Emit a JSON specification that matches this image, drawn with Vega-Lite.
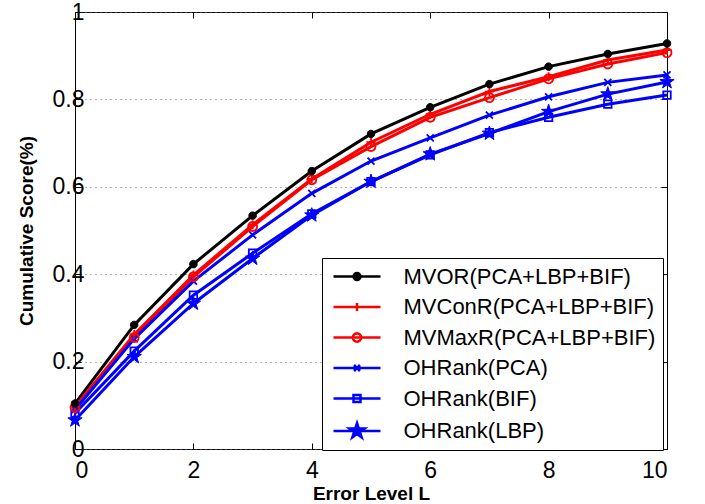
{
  "$schema": "https://vega.github.io/schema/vega-lite/v6.json",
  "width": 592,
  "height": 437,
  "autosize": {"type": "none"},
  "padding": {"left": 75, "top": 12, "right": 38, "bottom": 55},
  "background": "white",
  "config": {
    "view": {"stroke": "black", "strokeWidth": 1},
    "font": "Liberation Sans",
    "axis": {"domain": false, "labelFont": "Liberation Sans", "titleFont": "Liberation Sans", "labelColor": "black", "titleColor": "black", "tickColor": "black", "labelFontSize": 23, "titleFontSize": 19, "titleFontWeight": "bold"},
    "legend": {
      "orient": "none", "legendX": 247, "legendY": 246,
      "strokeColor": "black", "fillColor": "white", "padding": 7,
      "symbolSize": 400, "symbolStrokeWidth": 2.5, "symbolOffset": 16.5, "symbolOpacity": 1,
      "labelFont": "Liberation Sans", "labelFontSize": 22, "labelColor": "black", "labelOffset": 35, "labelLimit": 400,
      "rowPadding": 7.5
    }
  },
  "data": {"values": [
    {"L": 0, "series": "MVOR(PCA+LBP+BIF)", "score": 0.104},
    {"L": 1, "series": "MVOR(PCA+LBP+BIF)", "score": 0.284},
    {"L": 2, "series": "MVOR(PCA+LBP+BIF)", "score": 0.423},
    {"L": 3, "series": "MVOR(PCA+LBP+BIF)", "score": 0.534},
    {"L": 4, "series": "MVOR(PCA+LBP+BIF)", "score": 0.636},
    {"L": 5, "series": "MVOR(PCA+LBP+BIF)", "score": 0.721},
    {"L": 6, "series": "MVOR(PCA+LBP+BIF)", "score": 0.782},
    {"L": 7, "series": "MVOR(PCA+LBP+BIF)", "score": 0.835},
    {"L": 8, "series": "MVOR(PCA+LBP+BIF)", "score": 0.875},
    {"L": 9, "series": "MVOR(PCA+LBP+BIF)", "score": 0.904},
    {"L": 10, "series": "MVOR(PCA+LBP+BIF)", "score": 0.928},
    {"L": 0, "series": "MVConR(PCA+LBP+BIF)", "score": 0.097},
    {"L": 1, "series": "MVConR(PCA+LBP+BIF)", "score": 0.262},
    {"L": 2, "series": "MVConR(PCA+LBP+BIF)", "score": 0.398},
    {"L": 3, "series": "MVConR(PCA+LBP+BIF)", "score": 0.513},
    {"L": 4, "series": "MVConR(PCA+LBP+BIF)", "score": 0.618},
    {"L": 5, "series": "MVConR(PCA+LBP+BIF)", "score": 0.702},
    {"L": 6, "series": "MVConR(PCA+LBP+BIF)", "score": 0.766},
    {"L": 7, "series": "MVConR(PCA+LBP+BIF)", "score": 0.818},
    {"L": 8, "series": "MVConR(PCA+LBP+BIF)", "score": 0.852},
    {"L": 9, "series": "MVConR(PCA+LBP+BIF)", "score": 0.890},
    {"L": 10, "series": "MVConR(PCA+LBP+BIF)", "score": 0.913},
    {"L": 0, "series": "MVMaxR(PCA+LBP+BIF)", "score": 0.095},
    {"L": 1, "series": "MVMaxR(PCA+LBP+BIF)", "score": 0.255},
    {"L": 2, "series": "MVMaxR(PCA+LBP+BIF)", "score": 0.394},
    {"L": 3, "series": "MVMaxR(PCA+LBP+BIF)", "score": 0.509},
    {"L": 4, "series": "MVMaxR(PCA+LBP+BIF)", "score": 0.616},
    {"L": 5, "series": "MVMaxR(PCA+LBP+BIF)", "score": 0.692},
    {"L": 6, "series": "MVMaxR(PCA+LBP+BIF)", "score": 0.759},
    {"L": 7, "series": "MVMaxR(PCA+LBP+BIF)", "score": 0.804},
    {"L": 8, "series": "MVMaxR(PCA+LBP+BIF)", "score": 0.847},
    {"L": 9, "series": "MVMaxR(PCA+LBP+BIF)", "score": 0.881},
    {"L": 10, "series": "MVMaxR(PCA+LBP+BIF)", "score": 0.907},
    {"L": 0, "series": "OHRank(PCA)", "score": 0.090},
    {"L": 1, "series": "OHRank(PCA)", "score": 0.252},
    {"L": 2, "series": "OHRank(PCA)", "score": 0.384},
    {"L": 3, "series": "OHRank(PCA)", "score": 0.490},
    {"L": 4, "series": "OHRank(PCA)", "score": 0.585},
    {"L": 5, "series": "OHRank(PCA)", "score": 0.659},
    {"L": 6, "series": "OHRank(PCA)", "score": 0.712},
    {"L": 7, "series": "OHRank(PCA)", "score": 0.764},
    {"L": 8, "series": "OHRank(PCA)", "score": 0.806},
    {"L": 9, "series": "OHRank(PCA)", "score": 0.839},
    {"L": 10, "series": "OHRank(PCA)", "score": 0.856},
    {"L": 0, "series": "OHRank(BIF)", "score": 0.082},
    {"L": 1, "series": "OHRank(BIF)", "score": 0.224},
    {"L": 2, "series": "OHRank(BIF)", "score": 0.352},
    {"L": 3, "series": "OHRank(BIF)", "score": 0.448},
    {"L": 4, "series": "OHRank(BIF)", "score": 0.538},
    {"L": 5, "series": "OHRank(BIF)", "score": 0.612},
    {"L": 6, "series": "OHRank(BIF)", "score": 0.673},
    {"L": 7, "series": "OHRank(BIF)", "score": 0.724},
    {"L": 8, "series": "OHRank(BIF)", "score": 0.759},
    {"L": 9, "series": "OHRank(BIF)", "score": 0.789},
    {"L": 10, "series": "OHRank(BIF)", "score": 0.810},
    {"L": 0, "series": "OHRank(LBP)", "score": 0.066},
    {"L": 1, "series": "OHRank(LBP)", "score": 0.211},
    {"L": 2, "series": "OHRank(LBP)", "score": 0.333},
    {"L": 3, "series": "OHRank(LBP)", "score": 0.436},
    {"L": 4, "series": "OHRank(LBP)", "score": 0.535},
    {"L": 5, "series": "OHRank(LBP)", "score": 0.612},
    {"L": 6, "series": "OHRank(LBP)", "score": 0.675},
    {"L": 7, "series": "OHRank(LBP)", "score": 0.722},
    {"L": 8, "series": "OHRank(LBP)", "score": 0.772},
    {"L": 9, "series": "OHRank(LBP)", "score": 0.812},
    {"L": 10, "series": "OHRank(LBP)", "score": 0.840}
  ]},
  "resolve": {"axis": {"x": "independent", "y": "independent"}},
  "layer": [
    {
      "mark": {"type": "line", "strokeWidth": 3},
      "encoding": {
        "x": {"field": "L", "type": "quantitative", "scale": {"domain": [0, 10], "nice": false},
              "axis": {"orient": "bottom", "values": [0, 2, 4, 6, 8, 10], "tickSize": -6, "labelPadding": 16, "grid": false, "title": "Error Level L", "titlePadding": 2}},
        "y": {"field": "score", "type": "quantitative", "scale": {"domain": [0, 1], "nice": false},
              "axis": {"orient": "left", "values": [0, 0.2, 0.4, 0.6, 0.8, 1], "format": "~g", "tickSize": -6, "labelPadding": -3, "grid": true, "gridDash": [1, 4], "gridColor": "#666", "gridWidth": 1, "title": "Cumulative Score(%)", "titlePadding": 16}},
        "stroke": {"field": "series", "type": "nominal",
                   "scale": {"domain": ["MVOR(PCA+LBP+BIF)", "MVConR(PCA+LBP+BIF)", "MVMaxR(PCA+LBP+BIF)", "OHRank(PCA)", "OHRank(BIF)", "OHRank(LBP)"], "range": ["#000000", "#ff0000", "#ff0000", "#0000ff", "#0000ff", "#0000ff"]},
                   "legend": {"title": null}}
      }
    },
    {
      "mark": {"type": "point", "size": 100, "strokeWidth": 2.5, "opacity": 0},
      "encoding": {
        "x": {"field": "L", "type": "quantitative", "axis": {"orient": "top", "values": [0, 2, 4, 6, 8, 10], "tickSize": -6, "labels": false, "grid": false, "title": null}},
        "y": {"field": "score", "type": "quantitative", "axis": {"orient": "right", "values": [0, 0.2, 0.4, 0.6, 0.8, 1], "tickSize": -6, "labels": false, "grid": false, "title": null}},
        "stroke": {"field": "series", "type": "nominal", "legend": {"title": null}},
        "fill": {"field": "series", "type": "nominal",
                 "scale": {"domain": ["MVOR(PCA+LBP+BIF)", "MVConR(PCA+LBP+BIF)", "MVMaxR(PCA+LBP+BIF)", "OHRank(PCA)", "OHRank(BIF)", "OHRank(LBP)"], "range": ["#000000", "transparent", "transparent", "transparent", "transparent", "#0000ff"]},
                 "legend": {"title": null}},
        "shape": {"field": "series", "type": "nominal",
                  "scale": {"domain": ["MVOR(PCA+LBP+BIF)", "MVConR(PCA+LBP+BIF)", "MVMaxR(PCA+LBP+BIF)", "OHRank(PCA)", "OHRank(BIF)", "OHRank(LBP)"],
                            "range": [
                              "M-2.35,0L2.35,0M0.35,0L0.323,0.134L0.247,0.247L0.134,0.323L0,0.35L-0.134,0.323L-0.247,0.247L-0.323,0.134L-0.35,0L-0.323,-0.134L-0.247,-0.247L-0.134,-0.323L0,-0.35L0.134,-0.323L0.247,-0.247L0.323,-0.134Z",
                              "M-2.35,0L2.35,0M0,-0.4L0,0.4",
                              "M-2.35,0L2.35,0M0.42,0L0.388,0.161L0.297,0.297L0.161,0.388L0,0.42L-0.161,0.388L-0.297,0.297L-0.388,0.161L-0.42,0L-0.388,-0.161L-0.297,-0.297L-0.161,-0.388L0,-0.42L0.161,-0.388L0.297,-0.297L0.388,-0.161Z",
                              "M-2.35,0L2.35,0M-0.3,-0.3L0.3,0.3M-0.3,0.3L0.3,-0.3",
                              "M-2.35,0L2.35,0M-0.35,-0.35L0.35,-0.35L0.35,0.35L-0.35,0.35Z",
                              "M-2.35,0L2.35,0M0,-0.8L0.18,-0.247L0.761,-0.247L0.29,0.094L0.47,0.647L0,0.306L-0.47,0.647L-0.29,0.094L-0.761,-0.247L-0.18,-0.247Z"
                            ]},
                  "legend": {"title": null}}
      }
    },
    {
      "transform": [{"filter": "datum.series == 'OHRank(LBP)'"}],
      "mark": {"type": "point", "filled": true, "color": "#0000ff", "stroke": "#0000ff", "strokeWidth": 1, "opacity": 1, "size": 100,
               "shape": "M0,-1.5L0.338,-0.464L1.427,-0.464L0.545,0.177L0.882,1.214L0,0.573L-0.882,1.214L-0.545,0.177L-1.427,-0.464L-0.338,-0.464Z"},
      "encoding": {"x": {"field": "L", "type": "quantitative", "axis": null}, "y": {"field": "score", "type": "quantitative", "axis": null}}
    },
    {
      "transform": [{"filter": "datum.series == 'OHRank(BIF)'"}],
      "mark": {"type": "point", "filled": false, "color": "#0000ff", "strokeWidth": 1.8, "opacity": 1, "size": 100,
               "shape": "M-0.75,-0.75L0.75,-0.75L0.75,0.75L-0.75,0.75Z"},
      "encoding": {"x": {"field": "L", "type": "quantitative", "axis": null}, "y": {"field": "score", "type": "quantitative", "axis": null}}
    },
    {
      "transform": [{"filter": "datum.series == 'OHRank(PCA)'"}],
      "mark": {"type": "point", "filled": false, "color": "#0000ff", "strokeWidth": 1.8, "opacity": 1, "size": 100,
               "shape": "M-0.7,-0.7L0.7,0.7M-0.7,0.7L0.7,-0.7"},
      "encoding": {"x": {"field": "L", "type": "quantitative", "axis": null}, "y": {"field": "score", "type": "quantitative", "axis": null}}
    },
    {
      "transform": [{"filter": "datum.series == 'MVMaxR(PCA+LBP+BIF)'"}],
      "mark": {"type": "point", "filled": false, "color": "#ff0000", "strokeWidth": 1.8, "opacity": 1, "size": 100,
               "shape": "M0.9,0L0.832,0.344L0.636,0.636L0.344,0.832L0,0.9L-0.344,0.832L-0.636,0.636L-0.832,0.344L-0.9,0L-0.832,-0.344L-0.636,-0.636L-0.344,-0.832L0,-0.9L0.344,-0.832L0.636,-0.636L0.832,-0.344Z"},
      "encoding": {"x": {"field": "L", "type": "quantitative", "axis": null}, "y": {"field": "score", "type": "quantitative", "axis": null}}
    },
    {
      "transform": [{"filter": "datum.series == 'MVConR(PCA+LBP+BIF)'"}],
      "mark": {"type": "point", "filled": false, "color": "#ff0000", "strokeWidth": 1.8, "opacity": 1, "size": 100,
               "shape": "M-0.9,0L0.9,0M0,-0.9L0,0.9"},
      "encoding": {"x": {"field": "L", "type": "quantitative", "axis": null}, "y": {"field": "score", "type": "quantitative", "axis": null}}
    },
    {
      "transform": [{"filter": "datum.series == 'MVOR(PCA+LBP+BIF)'"}],
      "mark": {"type": "point", "filled": true, "color": "#000000", "stroke": "#000000", "strokeWidth": 1, "opacity": 1, "size": 100,
               "shape": "M0.75,0L0.693,0.287L0.53,0.53L0.287,0.693L0,0.75L-0.287,0.693L-0.53,0.53L-0.693,0.287L-0.75,0L-0.693,-0.287L-0.53,-0.53L-0.287,-0.693L0,-0.75L0.287,-0.693L0.53,-0.53L0.693,-0.287Z"},
      "encoding": {"x": {"field": "L", "type": "quantitative", "axis": null}, "y": {"field": "score", "type": "quantitative", "axis": null}}
    }
  ]
}
